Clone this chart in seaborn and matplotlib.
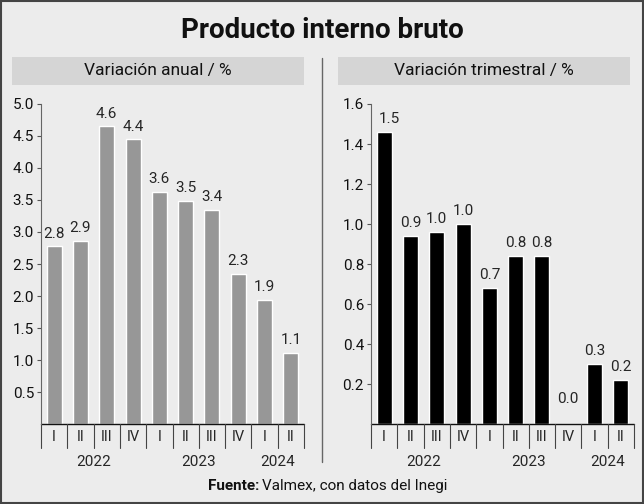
import numpy as np
import pandas as pd
import seaborn as sns
import matplotlib.pyplot as plt
from matplotlib.patches import Rectangle
import matplotlib.transforms as mtransforms

# datos
trimestres = ['I', 'II', 'III', 'IV', 'I', 'II', 'III', 'IV', 'I', 'II']
anios = ['2022', '2022', '2022', '2022', '2023', '2023', '2023', '2023', '2024', '2024']
anual = [2.78, 2.86, 4.65, 4.45, 3.63, 3.49, 3.35, 2.35, 1.94, 1.11]
anual_etq = ['2.8', '2.9', '4.6', '4.4', '3.6', '3.5', '3.4', '2.3', '1.9', '1.1']
trimestral = [1.46, 0.94, 0.96, 1.0, 0.68, 0.84, 0.84, 0.0, 0.30, 0.22]
trimestral_etq = ['1.5', '0.9', '1.0', '1.0', '0.7', '0.8', '0.8', '0.0', '0.3', '0.2']
anio_pos = {'2022': 1.5, '2023': 5.5, '2024': 8.5}

df = pd.DataFrame({'clave': [a + '-' + str(i) for i, a in enumerate(anios)],
                   'trim': trimestres, 'anio': anios,
                   'anual': anual, 'trimestral': trimestral})

sns.set_theme(style='white')
plt.rcParams['font.family'] = ['Roboto', 'DejaVu Sans']
BG = '#ececec'
W, H = 644, 504

fig = plt.figure(figsize=(W / 100, H / 100), dpi=100, facecolor=BG)


def fx(px):
    return px / W


def fy(py):
    return 1 - py / H


def panel(x0, x1, col, color, etqs, ylim, yticks, titulo, bx0, bx1):
    ax = fig.add_axes([fx(x0), fy(424), fx(x1) - fx(x0), fy(104) - fy(424)])
    ax.set_facecolor(BG)
    sns.barplot(data=df, x='clave', y=col, color=color, width=0.57,
                saturation=1, ax=ax, order=list(df['clave']))
    ax.set_xlim(-0.5, 9.5)
    ax.set_ylim(*ylim)
    ax.set_yticks(yticks)
    ax.set_yticklabels([f'{t:.1f}' for t in yticks], fontsize=11, color='#111111')
    ax.tick_params(axis='y', length=3, width=0.8, color='#555555', pad=2, left=True)
    ax.set_xticks([])
    ax.set_xlabel('')
    ax.set_ylabel('')
    for s in ['top', 'right', 'bottom']:
        ax.spines[s].set_visible(False)
    ax.spines['left'].set_color('#666666')
    ax.spines['left'].set_linewidth(0.8)
    ax.axhline(0, color='#111111', lw=1, clip_on=False)

    trans = mtransforms.blended_transform_factory(ax.transData, ax.transAxes)
    for k in np.arange(-0.5, 10, 1):
        ax.plot([k, k], [0, -0.075], color='#444444', lw=0.8, transform=trans, clip_on=False)
    for i, t in enumerate(df['trim']):
        ax.text(i, -0.04, t, transform=trans, ha='center', va='center', fontsize=10.5)
    for a, p in anio_pos.items():
        ax.text(p, -0.118, a, transform=trans, ha='center', va='center', fontsize=11)

    for i, (v, e) in enumerate(zip(df[col], etqs)):
        dy = 13 if v == 0 else 4
        dx = 4 if (col == 'trimestral' and i == 0) else 0
        ax.annotate(e, (i, v), xytext=(dx, dy), textcoords='offset points',
                    ha='center', va='bottom', fontsize=11, annotation_clip=False)

    fig.patches.append(Rectangle((fx(bx0), fy(85)), fx(bx1) - fx(bx0), fy(57) - fy(85),
                                 transform=fig.transFigure, facecolor='#d5d5d5',
                                 edgecolor='none', zorder=0))
    fig.text(fx((bx0 + bx1) / 2), fy(71), titulo, ha='center', va='center',
             fontsize=12.5, color='#111111')
    return ax


panel(41, 304, 'anual', '#979797', anual_etq, (0, 5.0),
      [0.5, 1.0, 1.5, 2.0, 2.5, 3.0, 3.5, 4.0, 4.5, 5.0],
      'Variación anual / %', 12, 304)
panel(371, 634, 'trimestral', '#000000', trimestral_etq, (0, 1.6),
      [0.2, 0.4, 0.6, 0.8, 1.0, 1.2, 1.4, 1.6],
      'Variación trimestral / %', 338, 630)

fig.text(0.5, fy(30), 'Producto interno bruto', ha='center', va='center',
         fontsize=20, fontweight='bold', color='#111111')
fig.lines.append(plt.Line2D([fx(322), fx(322)], [fy(58), fy(462)], color='#666666',
                            lw=1, transform=fig.transFigure))
fig.text(fx(259), fy(486), 'Fuente:', ha='right', va='center', fontsize=11,
         fontweight='bold', color='#111111')
fig.text(fx(262), fy(486), 'Valmex, con datos del Inegi', ha='left', va='center',
         fontsize=11, color='#111111')
fig.patches.append(Rectangle((0.001, 0.001), 0.998, 0.998, transform=fig.transFigure,
                             facecolor='none', edgecolor='#444444', lw=1.5))

fig.savefig('out.png', dpi=100, facecolor=BG)
